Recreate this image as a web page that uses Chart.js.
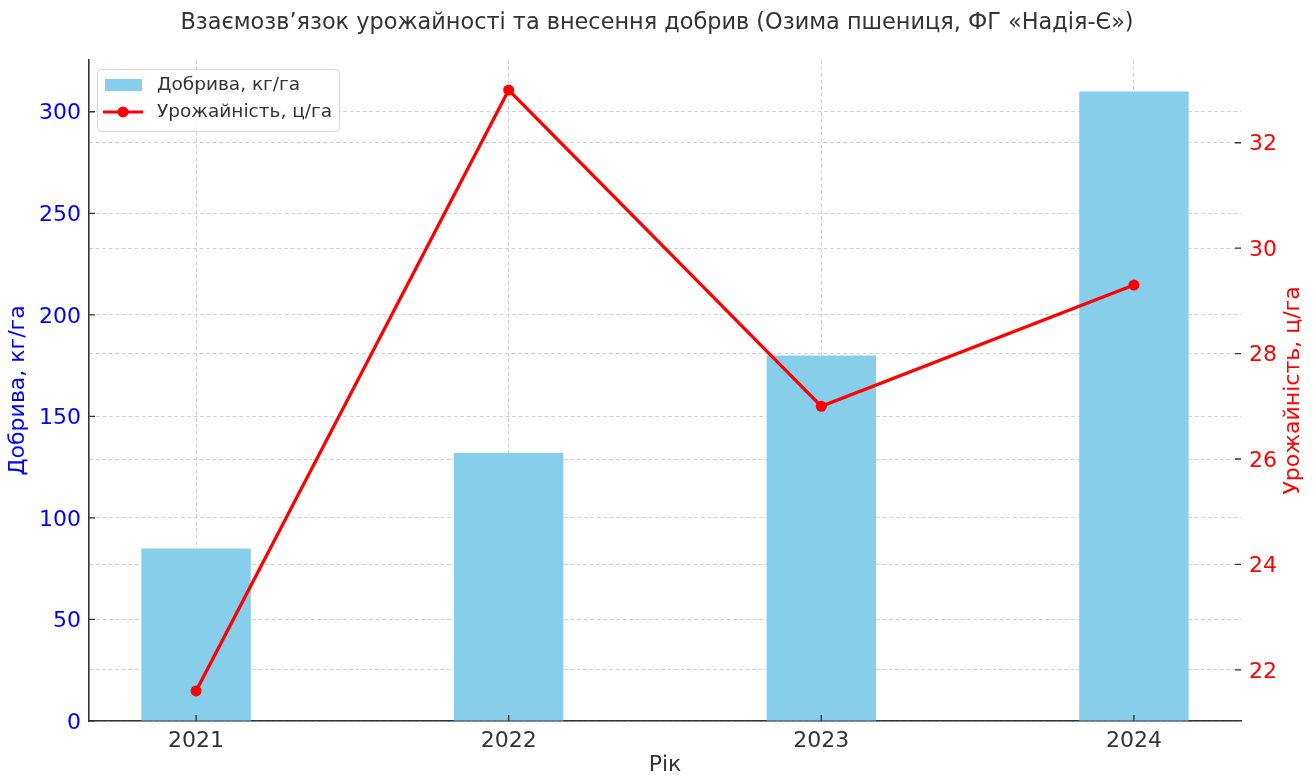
<!DOCTYPE html>
<html lang="uk">
<head>
<meta charset="utf-8">
<title>Взаємозв’язок урожайності та внесення добрив</title>
<script src="https://cdn.jsdelivr.net/npm/chart.js@4.4.1/dist/chart.umd.min.js"></script>
<style>
  html, body { margin: 0; padding: 0; background: #fff; }
  #wrap { width: 1314px; height: 776px; position: relative; }
</style>
</head>
<body>
<div id="wrap"><canvas id="yieldChart"></canvas></div>
<script>
const years = ['2021', '2022', '2023', '2024'];
const fertilizer = [85, 132, 180, 310];        // кг/га
const yieldValues = [21.6, 33.0, 27.0, 29.3];  // ц/га
const fertTicks = [0, 50, 100, 150, 200, 250, 300];
const yieldTicks = [22, 24, 26, 28, 30, 32];

const FONT = "'DejaVu Sans', sans-serif";
const TEXT = '#333333';
const GRID = '#d2d2d2';
const RIGHT_TITLE = 'Урожайність, ц/га';

// inward tick marks on the three axes
const innerTicks = {
    id: 'innerTicks',
    afterDraw(chart) {
        const { ctx, chartArea: a, scales } = chart;
        ctx.save();
        ctx.strokeStyle = TEXT;
        ctx.lineWidth = 1.3;
        ctx.beginPath();
        scales.x.ticks.forEach((t, i) => {
            const px = scales.x.getPixelForTick(i);
            ctx.moveTo(px, a.bottom); ctx.lineTo(px, a.bottom - 6);
        });
        scales.y.ticks.forEach((t, i) => {
            const py = scales.y.getPixelForTick(i);
            ctx.moveTo(a.left, py); ctx.lineTo(a.left + 6, py);
        });
        scales.y1.ticks.forEach((t, i) => {
            const py = scales.y1.getPixelForTick(i);
            ctx.moveTo(a.right, py); ctx.lineTo(a.right - 6, py);
        });
        ctx.stroke();
        ctx.restore();
    }
};

// right axis title, reading bottom to top like the left one
const rightTitle = {
    id: 'rightTitle',
    afterDraw(chart) {
        const { ctx, chartArea: a, width } = chart;
        ctx.save();
        ctx.translate(width - 21, (a.top + a.bottom) / 2);
        ctx.rotate(-Math.PI / 2);
        ctx.fillStyle = '#ff0000';
        ctx.font = `22px ${FONT}`;
        ctx.textAlign = 'center';
        ctx.textBaseline = 'middle';
        ctx.fillText(RIGHT_TITLE, 0, 0);
        ctx.restore();
    }
};

// framed legend in the upper-left corner of the plot
const cornerLegend = {
    id: 'cornerLegend',
    afterDraw(chart) {
        const { ctx, chartArea: a } = chart;
        const bar = chart.data.datasets[1];
        const line = chart.data.datasets[0];
        const x = a.left + 8, y = a.top + 9, w = 242, h = 62;
        ctx.save();
        ctx.fillStyle = 'rgba(255,255,255,0.85)';
        ctx.strokeStyle = '#d6d6d6';
        ctx.lineWidth = 1;
        ctx.beginPath();
        ctx.roundRect(x + 0.5, y + 0.5, w, h, 4);
        ctx.fill();
        ctx.stroke();

        ctx.fillStyle = bar.backgroundColor;
        ctx.fillRect(x + 8, y + 10, 37, 12);

        ctx.strokeStyle = line.borderColor;
        ctx.lineWidth = 3.2;
        ctx.beginPath();
        ctx.moveTo(x + 6, y + 43); ctx.lineTo(x + 46, y + 43);
        ctx.stroke();
        ctx.fillStyle = line.borderColor;
        ctx.beginPath();
        ctx.arc(x + 26, y + 43, 5.5, 0, Math.PI * 2);
        ctx.fill();

        ctx.fillStyle = TEXT;
        ctx.font = `18.5px ${FONT}`;
        ctx.textBaseline = 'middle';
        ctx.fillText(bar.label, x + 60, y + 16);
        ctx.fillText(line.label, x + 60, y + 43);
        ctx.restore();
    }
};

const onlyTicks = values => scale => { scale.ticks = values.map(v => ({ value: v })); };

new Chart(document.getElementById('yieldChart'), {
    data: {
        datasets: [
            {
                type: 'line',
                label: RIGHT_TITLE,
                data: yieldValues.map((v, i) => ({ x: i, y: v })),
                yAxisID: 'y1',
                borderColor: '#ff0000',
                backgroundColor: '#ff0000',
                borderWidth: 3.3,
                pointRadius: 5.5,
                pointBackgroundColor: '#ff0000',
                pointBorderWidth: 0,
                tension: 0,
                order: 1
            },
            {
                type: 'bar',
                label: 'Добрива, кг/га',
                data: fertilizer.map((v, i) => ({ x: i, y: v })),
                yAxisID: 'y',
                backgroundColor: '#87ceeb',
                barPercentage: 0.35,
                categoryPercentage: 1,
                order: 2
            }
        ]
    },
    options: {
        responsive: true,
        maintainAspectRatio: false,
        animation: false,
        layout: { padding: 0 },
        plugins: {
            legend: { display: false },
            tooltip: { enabled: false },
            title: {
                display: true,
                text: 'Взаємозв’язок урожайності та внесення добрив (Озима пшениця, ФГ «Надія-Є»)',
                color: TEXT,
                font: { family: FONT, size: 22.4, weight: 'normal', lineHeight: 1.2 },
                padding: { top: 10, bottom: 23.1 }
            }
        },
        scales: {
            x: {
                type: 'linear',
                min: -0.3425,
                max: 3.3425,
                offset: false,
                z: 1,
                afterBuildTicks: onlyTicks(years.map((_, i) => i)),
                afterFit: s => { s.height = 55; },
                ticks: {
                    color: TEXT,
                    font: { family: FONT, size: 22 },
                    padding: 7,
                    callback: v => years[v]
                },
                grid: { color: GRID, lineWidth: 1, drawTicks: false, offset: false },
                border: { display: true, color: TEXT, width: 1.6, dash: [4, 2.5] },
                title: {
                    display: true,
                    text: 'Рік',
                    color: TEXT,
                    font: { family: FONT, size: 22, lineHeight: 1 },
                    padding: { top: 0, bottom: 0 }
                }
            },
            y: {
                type: 'linear',
                position: 'left',
                min: 0,
                max: 325.5,
                z: 1,
                afterBuildTicks: onlyTicks(fertTicks),
                afterFit: s => { s.width = 89; },
                ticks: {
                    color: '#0000ff',
                    font: { family: FONT, size: 22 },
                    padding: 8,
                    labelOffset: 2
                },
                grid: { color: GRID, lineWidth: 1, drawTicks: false },
                border: { display: true, color: TEXT, width: 1.6, dash: [4, 2.5] },
                title: {
                    display: true,
                    text: 'Добрива, кг/га',
                    color: '#0000ff',
                    font: { family: FONT, size: 22 },
                    padding: { top: 5, bottom: 0 }
                }
            },
            y1: {
                type: 'linear',
                position: 'right',
                min: 21.03,
                max: 33.57,
                z: 1,
                afterBuildTicks: onlyTicks(yieldTicks),
                afterFit: s => { s.width = 73; },
                ticks: {
                    color: '#ff0000',
                    font: { family: FONT, size: 22 },
                    padding: 8,
                    labelOffset: 2
                },
                grid: { color: GRID, lineWidth: 1, drawTicks: false },
                border: { display: false, dash: [4, 2.5] },
                title: { display: false }
            }
        }
    },
    plugins: [innerTicks, rightTitle, cornerLegend]
});
</script>
</body>
</html>
